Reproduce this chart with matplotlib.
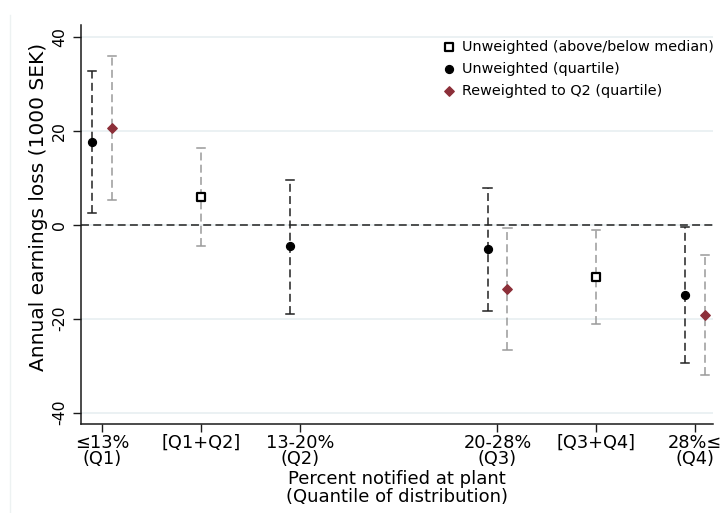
import matplotlib
matplotlib.use("Agg")
import matplotlib.pyplot as plt
from matplotlib.lines import Line2D

# ── Data ───────────────────────────────────────────────────────────────
tick_pos = [1, 2, 3, 5, 6, 7]
tick_labels = ["≤13%\n(Q1)", "[Q1+Q2]", "13-20%\n(Q2)", "20-28%\n(Q3)", "[Q3+Q4]", "28%≤\n(Q4)"]

# unweighted, above/below median (squares)
med_x = [2, 6]
med_est = [5.9, -11.1]
med_lo = [-4.6, -21.1]
med_hi = [16.4, -1.1]

# unweighted, quartile (black dots)
q_x = [0.9, 2.9, 4.9, 6.9]
q_est = [17.6, -4.6, -5.2, -15.0]
q_lo = [2.5, -18.9, -18.4, -29.4]
q_hi = [32.8, 9.6, 7.9, -0.5]

# reweighted to Q2, quartile (red diamonds)
rw_x = [1.1, 5.1, 7.1]
rw_est = [20.5, -13.6, -19.2]
rw_lo = [5.3, -26.7, -32.0]
rw_hi = [35.8, -0.6, -6.4]

RED = "#8c2f39"
GRID = "#e8eff1"
DASH = (5.2, 2.8)

fig = plt.figure(figsize=(7.21, 5.13), dpi=100)
ax = fig.add_axes([81 / 721, 1 - 424 / 513, (713 - 81) / 721, (424 - 25) / 513])

# faint outer border line on the left
fig.add_artist(Line2D([10 / 721, 10 / 721], [0, 1 - 15 / 513], transform=fig.transFigure,
                      color="#edf2f2", lw=1))


def ci(xs, lo, hi, color):
    for xv, l, h in zip(xs, lo, hi):
        ax.plot([xv, xv], [l, h], color=color, lw=1.1, dashes=DASH, zorder=2)
        for yv in (l, h):
            ax.plot([xv - 0.042, xv + 0.042], [yv, yv], color=color, lw=1.1, zorder=2)


ci(q_x, q_lo, q_hi, "#222222")
ci(med_x, med_lo, med_hi, "#9a9a9a")
ci(rw_x, rw_lo, rw_hi, "#9a9a9a")

ax.axhline(0, color="#222222", lw=1.1, dashes=DASH, zorder=1)

ax.scatter(med_x, med_est, marker="s", s=38, facecolor="white", edgecolor="black",
           linewidth=1.6, zorder=3, label="Unweighted (above/below median)")
ax.scatter(q_x, q_est, marker="o", s=32, color="black", zorder=3,
           label="Unweighted (quartile)")
ax.scatter(rw_x, rw_est, marker="D", s=23, color=RED, zorder=3,
           label="Reweighted to Q2 (quartile)")

ax.set_xlim(0.787, 7.18)
ax.set_ylim(-42.4, 42.5)
ax.set_yticks([-40, -20, 0, 20, 40])
ax.set_yticklabels(["-40", "-20", "0", "20", "40"], rotation=90, va="center", fontsize=11.3)
ax.set_xticks(tick_pos)
ax.set_xticklabels(tick_labels, fontsize=12.8, linespacing=0.9)
ax.tick_params(axis="both", length=6, width=1, color="#1a1a1a")
ax.tick_params(axis="y", pad=4)
ax.tick_params(axis="x", pad=1)

ax.yaxis.grid(True, color=GRID, lw=1.2)
ax.set_axisbelow(True)
for s in ("top", "right"):
    ax.spines[s].set_visible(False)
for s in ("left", "bottom"):
    ax.spines[s].set_color("#1a1a1a")
    ax.spines[s].set_linewidth(1.1)

ax.set_ylabel("Annual earnings loss (1000 SEK)", fontsize=14.5)
ax.yaxis.set_label_coords(-0.052, 0.543)
ax.set_xlabel("Percent notified at plant\n(Quantile of distribution)", fontsize=13,
              linespacing=1.05, labelpad=1)

ax.legend(loc="upper right", bbox_to_anchor=(1.011, 0.977), frameon=False, fontsize=10.4,
          handletextpad=0.3, labelspacing=0.56, borderaxespad=0, handlelength=1.2)

fig.savefig("out.png", dpi=100, facecolor="white")
